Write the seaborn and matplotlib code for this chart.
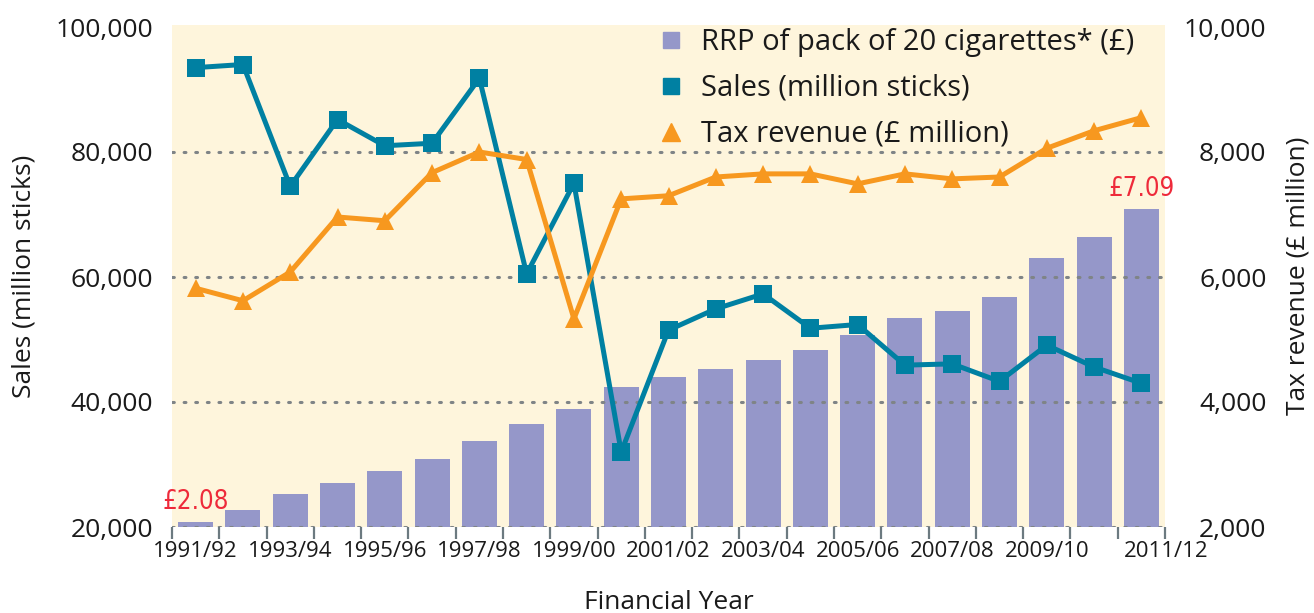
import matplotlib
matplotlib.use("Agg")
import matplotlib.pyplot as plt
import matplotlib.transforms as mtrans
from matplotlib.lines import Line2D
from matplotlib.ticker import FuncFormatter
import seaborn as sns
import numpy as np
import pandas as pd

# ---------------- data ----------------
years = ["1991/92", "1992/93", "1993/94", "1994/95", "1995/96", "1996/97", "1997/98",
         "1998/99", "1999/00", "2000/01", "2001/02", "2002/03", "2003/04", "2004/05",
         "2005/06", "2006/07", "2007/08", "2008/09", "2009/10", "2010/11", "2011/12"]
rrp = [2.08, 2.27, 2.53, 2.71, 2.90, 3.09, 3.38, 3.65, 3.89, 4.24, 4.40,
       4.53, 4.67, 4.83, 5.07, 5.34, 5.46, 5.68, 6.30, 6.64, 7.09]
sales = [93500, 94000, 74500, 85200, 81000, 81400, 91800, 60500, 75000, 32000, 51500,
         54900, 57300, 51800, 52400, 45900, 46100, 43300, 49100, 45600, 43000]
tax = [5820, 5620, 6080, 6960, 6900, 7670, 8000, 7880, 5330, 7250, 7300,
       7600, 7650, 7650, 7490, 7650, 7570, 7600, 8060, 8340, 8550]
sales_ticks = [20000, 40000, 60000, 80000, 100000]
tax_ticks = [2000, 4000, 6000, 8000, 10000]
label_years = years[::2]
legend_labels = ["RRP of pack of 20 cigarettes* (£)", "Sales (million sticks)", "Tax revenue (£ million)"]
rrp_scale = 10000  # £1 of RRP drawn as 10,000 on the sales axis

# ---------------- style ----------------
CREAM = "#FEF5DC"
BAR = "#9597C9"
TEAL = "#0080A2"
ORANGE = "#F7981F"
RED = "#EE2A3A"
GRID = "#7F8486"
TICKC = "#6C7A80"
TXT = "#1A1A1A"

sns.set_theme(style="white")
plt.rcParams['font.family'] = ['Open Sans', 'DejaVu Sans']

W, H = 1314, 613
fig = plt.figure(figsize=(W / 100, H / 100), dpi=100)
fig.patch.set_facecolor("white")
ax = fig.add_axes([172 / W, 1 - 527 / H, (1165 - 172) / W, (527 - 25) / H])
ax.set_facecolor(CREAM)

n = len(years)
df = pd.DataFrame({"idx": np.arange(n), "year": years, "rrp": rrp,
                   "sales": sales, "tax": tax})
df["rrp_bar"] = df["rrp"] * rrp_scale

sns.barplot(data=df, x="idx", y="rrp_bar", color=BAR, saturation=1, width=0.74,
            ax=ax, zorder=2, linewidth=0)
sns.lineplot(data=df, x="idx", y="sales", ax=ax, color=TEAL, lw=3.6, marker="s",
             markersize=12.5, markeredgewidth=0, zorder=4)

ax.set_xlim(-0.5, n - 0.5)
ax.set_ylim(20000, 100320)
for v in sales_ticks[:-1]:
    ax.axhline(v, color=GRID, lw=2.2, ls=(0, (0.6, 3.2)), dash_capstyle="round", zorder=3)

for s in ax.spines.values():
    s.set_visible(False)

# x ticks: marks at category boundaries, labels under every other bar
ax.set_xticks(np.arange(n + 1) - 0.5)
ax.set_xticklabels([])
ax.set_xticks(np.arange(0, n, 2), minor=True)
ax.set_xticklabels(label_years, minor=True)
ax.tick_params(axis="x", which="major", direction="out", length=8.5, width=1.6,
               color=TICKC, bottom=True)
ax.tick_params(axis="x", which="minor", length=0, pad=10, labelsize=16, labelcolor=TXT)
ax.set_xlabel("Financial Year", fontsize=19, color=TXT, labelpad=20)

ax.set_yticks(sales_ticks)
ax.yaxis.set_major_formatter(FuncFormatter(lambda v, p: f"{v:,.0f}"))
ax.tick_params(axis="y", length=0, pad=13.5, labelsize=19, labelcolor=TXT, left=True)
ax.set_ylabel("Sales (million sticks)", fontsize=19, color=TXT, labelpad=14)

# price annotations
for i in (0, n - 1):
    ax.annotate(f"£{rrp[i]:.2f}", xy=(i, rrp[i] * rrp_scale), xytext=(0, 5),
                textcoords="offset points", ha="center", va="bottom", fontsize=18.5,
                color=RED, family=["Liberation Sans Narrow", "DejaVu Sans"],
                fontstretch="condensed", zorder=6)

# tax on right axis
ax2 = ax.twinx()
sns.lineplot(data=df, x="idx", y="tax", ax=ax2, color=ORANGE, lw=3.6, marker="^",
             markersize=13.5, markeredgewidth=0, zorder=5)
ax2.set_ylim(2000, 10032)
ax2.set_xlim(-0.5, n - 0.5)
ax2.set_yticks(tax_ticks)
ax2.yaxis.set_major_formatter(FuncFormatter(lambda v, p: f"{v:,.0f}"))
ax2.tick_params(axis="y", length=0, pad=73, labelsize=19, labelcolor=TXT, right=True)
for lab in ax2.get_yticklabels():
    lab.set_horizontalalignment("right")
ax2.set_ylabel("Tax revenue (£ million)", fontsize=19, color=TXT, labelpad=14)
for s in ax2.spines.values():
    s.set_visible(False)

# shift last x label slightly right as in the reference
last = ax.xaxis.get_minor_ticks()[-1].label1
last.set_transform(last.get_transform() + mtrans.ScaledTranslation(0.25, 0, fig.dpi_scale_trans))

handles = [Line2D([], [], ls="none", marker="s", color=BAR, markersize=11),
           Line2D([], [], ls="none", marker="s", color=TEAL, markersize=11),
           Line2D([], [], ls="none", marker="^", color=ORANGE, markersize=13)]
leg = ax2.legend(handles, legend_labels, loc="upper left",
                 bbox_to_anchor=(657 / W, 1 - 28 / H), bbox_transform=fig.transFigure,
                 frameon=False, fontsize=21, handlelength=0.95, handletextpad=0.55,
                 labelspacing=0.58, borderpad=0, borderaxespad=0)
for t in leg.get_texts():
    t.set_color(TXT)

fig.savefig("out.png", dpi=100, facecolor="white")
